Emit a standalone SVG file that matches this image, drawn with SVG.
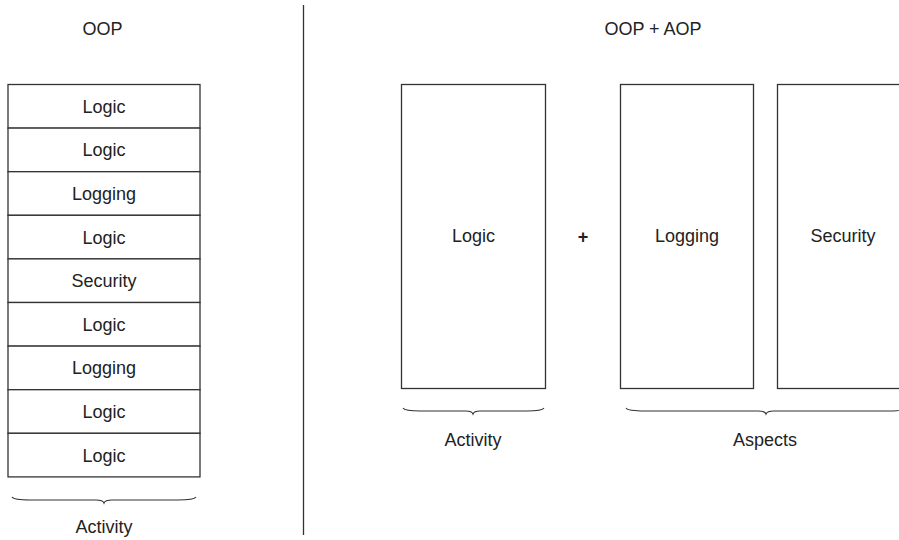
<svg xmlns="http://www.w3.org/2000/svg" width="899" height="540" viewBox="0 0 899 540">
<style>
.box{fill:#fff;stroke:#333;stroke-width:1.3}
.t{font-family:"Liberation Sans",Arial,sans-serif;font-size:18px;fill:#222;text-anchor:middle}
.br{fill:none;stroke:#333;stroke-width:1.1}
.ln{stroke:#333;stroke-width:1.3}
</style>
<rect width="899" height="540" fill="#fff"/>
<text class="t" x="102.5" y="35">OOP</text>
<text class="t" x="653" y="35">OOP + AOP</text>
<g id="divider"><line class="ln" x1="303.5" y1="5" x2="303.5" y2="535"/></g>
<g id="stack">
<g id="s1"><rect class="box" x="8" y="84.5" width="192" height="43.6"/><text class="t" x="104" y="112.7">Logic</text></g>
<g id="s2"><rect class="box" x="8" y="128.1" width="192" height="43.6"/><text class="t" x="104" y="156.3">Logic</text></g>
<g id="s3"><rect class="box" x="8" y="171.7" width="192" height="43.6"/><text class="t" x="104" y="199.9">Logging</text></g>
<g id="s4"><rect class="box" x="8" y="215.3" width="192" height="43.6"/><text class="t" x="104" y="243.5">Logic</text></g>
<g id="s5"><rect class="box" x="8" y="258.9" width="192" height="43.6"/><text class="t" x="104" y="287.1">Security</text></g>
<g id="s6"><rect class="box" x="8" y="302.5" width="192" height="43.6"/><text class="t" x="104" y="330.7">Logic</text></g>
<g id="s7"><rect class="box" x="8" y="346.1" width="192" height="43.6"/><text class="t" x="104" y="374.3">Logging</text></g>
<g id="s8"><rect class="box" x="8" y="389.7" width="192" height="43.6"/><text class="t" x="104" y="417.9">Logic</text></g>
<g id="s9"><rect class="box" x="8" y="433.3" width="192" height="43.6"/><text class="t" x="104" y="461.5">Logic</text></g>
</g>
<g id="braces">
<path class="br" d="M12,497 Q14,500 30,500 L96,500 Q103,500 104,503 Q105,500 112,500 L178,500 Q194,500 196,497"/>
<path class="br" d="M403,408 Q405,411 420,411 L466,411 Q472,411 473,414 Q474,411 480,411 L527,411 Q542,411 544,408"/>
<path class="br" d="M626,408 Q628,411 645,411 L758,411 Q765,411 766,414 Q767,411 774,411 L887,411 Q904,411 906,408"/>
</g>
<text class="t" x="104" y="533">Activity</text>
<g id="logic"><rect class="box" x="401.5" y="84.5" width="144" height="304"/><text class="t" x="473.5" y="242">Logic</text></g>
<text class="t" x="583" y="243" font-weight="bold">+</text>
<g id="logging"><rect class="box" x="620.5" y="84.5" width="133" height="304"/><text class="t" x="687" y="242">Logging</text></g>
<g id="security"><rect class="box" x="777.5" y="84.5" width="140" height="304"/><text class="t" x="843" y="242">Security</text></g>
<text class="t" x="473" y="446">Activity</text>
<text class="t" x="765" y="446">Aspects</text>
</svg>
